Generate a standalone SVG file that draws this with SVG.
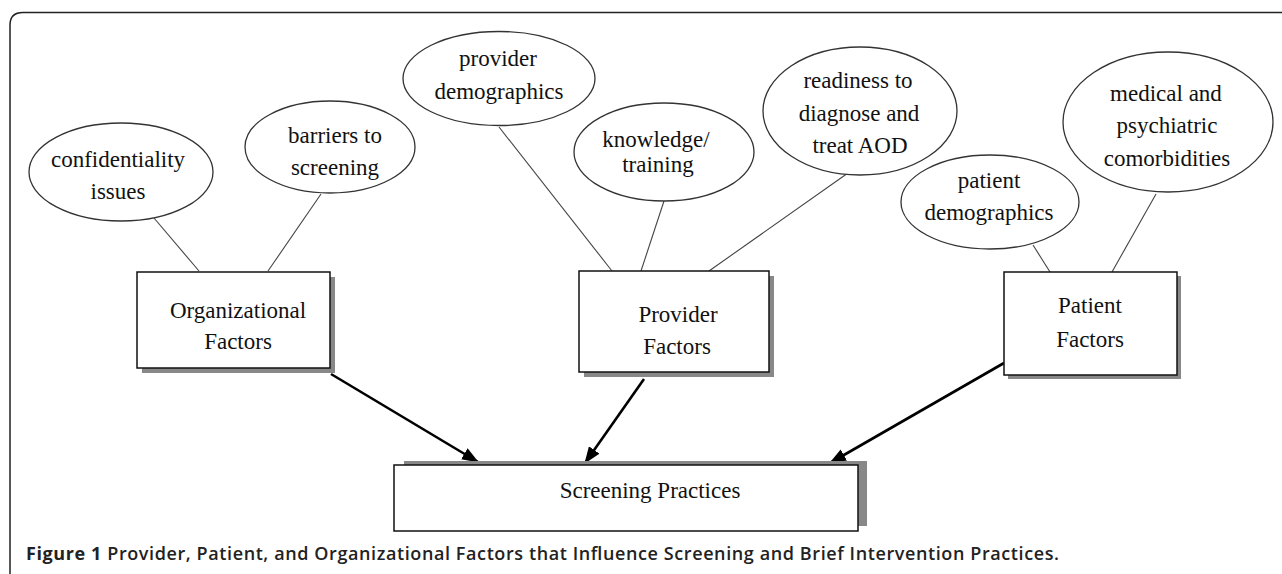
<svg xmlns="http://www.w3.org/2000/svg" width="1282" height="574" viewBox="0 0 1282 574">
<style>
.frame{fill:none;stroke:#222;stroke-width:1.5}
.ell{fill:#fff;stroke:#333;stroke-width:1.3}
.box{fill:#fff;stroke:#111;stroke-width:1.5}
.shadow{fill:#888;stroke:none}
.thin{stroke:#444;stroke-width:1.1;fill:none}
.arrow{stroke:#000;stroke-width:2.6;fill:none;marker-end:url(#ah)}
.t{font-family:"Liberation Serif","Times New Roman",serif;font-size:23px;fill:#111;text-anchor:middle}
.cap{font-family:"Open Sans","Noto Sans",sans-serif;font-size:18px;fill:#222}
</style>
<defs>
<marker id="ah" viewBox="0 0 16 12" refX="15" refY="6" markerWidth="17" markerHeight="13" markerUnits="userSpaceOnUse" orient="auto">
<path d="M0,0 L16,6 L0,12 z" fill="#000"/>
</marker>
</defs>
<rect width="1282" height="574" fill="#fff"/>
<path class="frame" d="M10,574 V25 Q10,12.5 23,12.5 H1282"/>

<g id="connectors">
<line class="thin" x1="154" y1="218" x2="199" y2="271"/>
<line class="thin" x1="321" y1="194" x2="268" y2="271"/>
<line class="thin" x1="499" y1="127" x2="612" y2="271"/>
<line class="thin" x1="664" y1="201" x2="641" y2="271"/>
<line class="thin" x1="848" y1="173" x2="709" y2="271"/>
<line class="thin" x1="1033" y1="245" x2="1050" y2="272"/>
<line class="thin" x1="1156" y1="194" x2="1112" y2="272"/>
<line class="arrow" x1="331" y1="374" x2="478" y2="462"/>
<line class="arrow" x1="644" y1="379" x2="585" y2="463"/>
<line class="arrow" x1="1004" y1="363" x2="830" y2="463"/>
</g>

<g id="confidentiality">
<ellipse class="ell" cx="121" cy="172" rx="92" ry="49"/>
<text class="t" x="118" y="167">confidentiality</text>
<text class="t" x="118" y="199">issues</text>
</g>
<g id="barriers">
<ellipse class="ell" cx="330" cy="147" rx="85" ry="46"/>
<text class="t" x="335" y="143">barriers to</text>
<text class="t" x="335" y="175">screening</text>
</g>
<g id="provider-demographics">
<ellipse class="ell" cx="499" cy="78.5" rx="96" ry="47"/>
<text class="t" x="498" y="66">provider</text>
<text class="t" x="499" y="99">demographics</text>
</g>
<g id="knowledge">
<ellipse class="ell" cx="664" cy="152" rx="90" ry="49"/>
<text class="t" x="656" y="147">knowledge/</text>
<text class="t" x="658" y="172">training</text>
</g>
<g id="readiness">
<ellipse class="ell" cx="860" cy="111" rx="97" ry="64"/>
<text class="t" x="858" y="88">readiness to</text>
<text class="t" x="859" y="121">diagnose and</text>
<text class="t" x="860" y="153">treat AOD</text>
</g>
<g id="patient-demographics">
<ellipse class="ell" cx="990" cy="202" rx="89" ry="47"/>
<text class="t" x="989" y="188">patient</text>
<text class="t" x="989" y="220">demographics</text>
</g>
<g id="comorbidities">
<ellipse class="ell" cx="1168" cy="122" rx="105" ry="70"/>
<text class="t" x="1166" y="101">medical and</text>
<text class="t" x="1167" y="133">psychiatric</text>
<text class="t" x="1167" y="166">comorbidities</text>
</g>

<g id="organizational-factors">
<rect class="shadow" x="142" y="277" width="193" height="96"/>
<rect class="box" x="137" y="272" width="193" height="96"/>
<text class="t" x="238" y="318">Organizational</text>
<text class="t" x="238" y="349">Factors</text>
</g>
<g id="provider-factors">
<rect class="shadow" x="584" y="276" width="190" height="101"/>
<rect class="box" x="579" y="271" width="190" height="101"/>
<text class="t" x="678" y="322">Provider</text>
<text class="t" x="677" y="354">Factors</text>
</g>
<g id="patient-factors">
<rect class="shadow" x="1008" y="276" width="173" height="103"/>
<rect class="box" x="1004" y="272" width="173" height="103"/>
<text class="t" x="1090" y="313">Patient</text>
<text class="t" x="1090" y="347">Factors</text>
</g>
<g id="screening-practices">
<rect class="shadow" x="404" y="461" width="463" height="65"/>
<rect class="box" x="394" y="465" width="464" height="66"/>
<text class="t" x="650" y="498">Screening Practices</text>
</g>

<text class="cap" x="26" y="560" textLength="1033" lengthAdjust="spacing"><tspan font-weight="700">Figure 1</tspan><tspan font-weight="600"> Provider, Patient, and Organizational Factors that Influence Screening and Brief Intervention Practices.</tspan></text>
</svg>
